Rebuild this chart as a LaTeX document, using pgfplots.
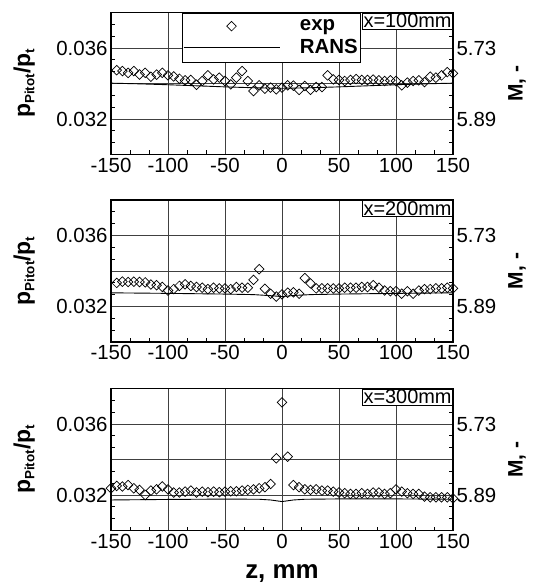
\documentclass[border=0pt]{standalone}
\usepackage{pgfplots}
\pgfplotsset{compat=1.18}
\usepackage{fontspec}
\setmainfont{Liberation Sans}
\newcommand{\tickfont}{\fontsize{20.5}{20.5}\selectfont}
\newcommand{\labfont}{\bfseries\fontsize{21}{21}\selectfont}
\newcommand{\legfont}{\bfseries\fontsize{20.5}{20.5}\selectfont}
\newcommand{\plab}{{\bfseries\fontsize{23}{23}\selectfont p{\fontsize{13.5}{13.5}\selectfont\raisebox{-0.32em}{Pitot}}/p{\fontsize{13.5}{13.5}\selectfont\raisebox{-0.32em}{t}}}}
\tikzset{xbox/.style={draw, line width=0.8bp, fill=white, inner sep=1bp, anchor=north east, font=\fontsize{20}{20}\selectfont}}
\pgfplotsset{
  panel/.style={
    scale only axis, width=342bp, height=142bp,
    xmin=-150, xmax=150, ymin=0.030, ymax=0.038,
    scaled y ticks=false, scaled x ticks=false,
    xtick={-150,-100,...,150}, xticklabels={-150,-100,-50,0,50,100,150},
    ytick={0.030,0.032,0.034,0.036,0.038}, yticklabels={,0.032,,0.036,},
    minor x tick num=2, minor y tick num=2,
    xtick pos=bottom, ytick pos=both,
    grid=major, major grid style={black!75, line width=0.8bp},
    axis line style={line width=1.3bp},
    tick style={black, line width=0.7bp},
    major tick length=0bp, minor tick length=4bp,
    tick label style={font=\tickfont},
    clip=false,
    ylabel={\plab},
    every axis y label/.style={at={(axis description cs:-0.254,0.5)}, anchor=center, rotate=90},
  },
  rpanel/.style={
    scale only axis, width=342bp, height=142bp,
    xmin=-150, xmax=150, ymin=0.030, ymax=0.038,
    scaled y ticks=false,
    hide x axis, axis y line*=right,
    ytick={0.032,0.036}, yticklabels={5.89,5.73},
    major tick length=0bp, minor y tick num=0,
    axis line style={line width=1.3bp},
    tick label style={font=\tickfont},
    ylabel={M, -},
    every axis y label/.style={font=\labfont, at={(axis description cs:1.187,0.5)}, anchor=center, rotate=90},
  },
  expstyle/.style={only marks, mark=square, mark size=3.4bp, black, mark options={rotate=45, line width=0.7bp}},
  ransstyle/.style={black, line width=0.9bp, no marks},
  expleg/.style={legend image code/.code={\path[draw=none] (0bp,0bp) -- (96bp,0bp); \draw[##1, draw=black] plot coordinates {(48bp,0bp)};}},
  ransleg/.style={legend image code/.code={\draw[black, line width=0.9bp] (0bp,0bp) -- (96bp,0bp);}},
}
\begin{document}
\begin{tikzpicture}
\useasboundingbox (0,0) rectangle (536bp,-583bp);
% ---------------- panel 1 ----------------
\begin{axis}[panel, at={(111bp,-12.5bp)}, anchor=north west,
  legend style={at={(rel axis cs:0.2067,1)}, anchor=north west, draw=black, line width=0.8bp, fill=white,
    font=\legfont, inner xsep=1bp, inner ysep=5bp, row sep=3bp, column sep=18bp, cells={anchor=west}}]
\addplot[expstyle, expleg] coordinates {
(-145,0.03475) (-140,0.03470) (-135,0.03460) (-130,0.03470) (-125,0.03451) (-120,0.03460)
(-115,0.03438) (-110,0.03450) (-105,0.03460) (-100,0.03446) (-95,0.03440) (-90,0.03427)
(-85,0.03418) (-80,0.03420) (-75,0.03393) (-70,0.03414) (-65,0.03446) (-60,0.03423)
(-55,0.03433) (-50,0.03414) (-45,0.03395) (-40,0.03433) (-35,0.03470) (-30,0.03414)
(-25,0.03358) (-20,0.03390) (-15,0.03371) (-10,0.03377) (-5,0.03367) (0,0.03377)
(5,0.03390) (10,0.03388) (15,0.03364) (20,0.03386) (25,0.03364) (30,0.03380)
(35,0.03380) (40,0.03446) (45,0.03423) (50,0.03420) (55,0.03414) (60,0.03420)
(65,0.03425) (70,0.03420) (75,0.03420) (80,0.03422) (85,0.03418) (90,0.03414)
(95,0.03418) (100,0.03414) (105,0.03390) (110,0.03405) (115,0.03414) (120,0.03418)
(125,0.03408) (130,0.03438) (135,0.03433) (140,0.03446) (145,0.03464) (150,0.03457)
};
\addlegendentry{exp}
\addplot[ransstyle, ransleg] coordinates {
(-150,0.03402) (-125,0.03398) (-100,0.03393) (-75,0.03387) (-50,0.03381) (-25,0.03376) (0,0.03373)
(25,0.03376) (50,0.03381) (75,0.03387) (100,0.03393) (125,0.03398) (150,0.03402)
};
\addlegendentry{RANS}
\node[xbox] at (rel axis cs:1,1) {x=100mm};
\end{axis}
\begin{axis}[rpanel, at={(111bp,-12.5bp)}, anchor=north west]
\addplot[draw=none, forget plot] coordinates {(0,0.034)};
\end{axis}
% ---------------- panel 2 ----------------
\begin{axis}[panel, at={(111bp,-200bp)}, anchor=north west]
\addplot[expstyle] coordinates {
(-145,0.03333) (-140,0.03340) (-135,0.03338) (-130,0.03340) (-125,0.03338) (-120,0.03336)
(-115,0.03324) (-110,0.03320) (-105,0.03310) (-100,0.03290) (-95,0.03298) (-90,0.03316)
(-85,0.03325) (-80,0.03316) (-75,0.03310) (-70,0.03306) (-65,0.03298) (-60,0.03306)
(-55,0.03302) (-50,0.03302) (-45,0.03298) (-40,0.03310) (-35,0.03306) (-30,0.03306)
(-25,0.03350) (-20,0.03410) (-15,0.03300) (-10,0.03272) (-5,0.03256) (0,0.03268)
(5,0.03278) (10,0.03280) (15,0.03272) (20,0.03360) (25,0.03330) (30,0.03302)
(35,0.03302) (40,0.03302) (45,0.03302) (50,0.03302) (55,0.03306) (60,0.03306)
(65,0.03306) (70,0.03310) (75,0.03310) (80,0.03320) (85,0.03306) (90,0.03290)
(95,0.03286) (100,0.03286) (105,0.03272) (110,0.03286) (115,0.03272) (120,0.03290)
(125,0.03298) (130,0.03298) (135,0.03302) (140,0.03302) (145,0.03306) (150,0.03302)
};
\addplot[ransstyle] coordinates {
(-150,0.03277) (-100,0.03274) (-50,0.03270) (-25,0.03267) (-10,0.03261) (0,0.03256)
(10,0.03262) (25,0.03267) (50,0.03270) (100,0.03274) (150,0.03277)
};
\node[xbox] at (rel axis cs:1,1) {x=200mm};
\end{axis}
\begin{axis}[rpanel, at={(111bp,-200bp)}, anchor=north west]
\addplot[draw=none, forget plot] coordinates {(0,0.034)};
\end{axis}
% ---------------- panel 3 ----------------
\begin{axis}[panel, at={(111bp,-388.5bp)}, anchor=north west,
  xlabel={z, mm}, every axis x label/.style={font=\bfseries\fontsize{26}{26}\selectfont, at={(axis description cs:0.5,-0.335)}, anchor=base}]
\addplot[expstyle] coordinates {
(-150,0.03238) (-145,0.03251) (-140,0.03248) (-135,0.03256) (-130,0.03238) (-125,0.03229)
(-120,0.03200) (-115,0.03225) (-110,0.03232) (-105,0.03248) (-100,0.03232) (-95,0.03214)
(-90,0.03214) (-85,0.03219) (-80,0.03225) (-75,0.03214) (-70,0.03219) (-65,0.03216)
(-60,0.03219) (-55,0.03216) (-50,0.03219) (-45,0.03221) (-40,0.03221) (-35,0.03225)
(-30,0.03229) (-25,0.03232) (-20,0.03238) (-15,0.03244) (-10,0.03262) (-5,0.03407)
(0,0.03722) (5,0.03416) (10,0.03256) (15,0.03244) (20,0.03232) (25,0.03229)
(30,0.03232) (35,0.03225) (40,0.03225) (45,0.03219) (50,0.03214) (55,0.03210)
(60,0.03206) (65,0.03206) (70,0.03210) (75,0.03206) (80,0.03214) (85,0.03214)
(90,0.03206) (95,0.03210) (100,0.03232) (105,0.03219) (110,0.03210) (115,0.03206)
(120,0.03206) (125,0.03191) (130,0.03187) (135,0.03187) (140,0.03187) (145,0.03187)
(150,0.03181)
};
\addplot[ransstyle] coordinates {
(-150,0.03172) (-100,0.03175) (-50,0.03177) (-20,0.03176) (-10,0.03172) (0,0.03163)
(10,0.03172) (20,0.03176) (50,0.03178) (100,0.03178) (150,0.03176)
};
\node[xbox] at (rel axis cs:1,1) {x=300mm};
\end{axis}
\begin{axis}[rpanel, at={(111bp,-388.5bp)}, anchor=north west]
\addplot[draw=none, forget plot] coordinates {(0,0.034)};
\end{axis}
\end{tikzpicture}
\end{document}
